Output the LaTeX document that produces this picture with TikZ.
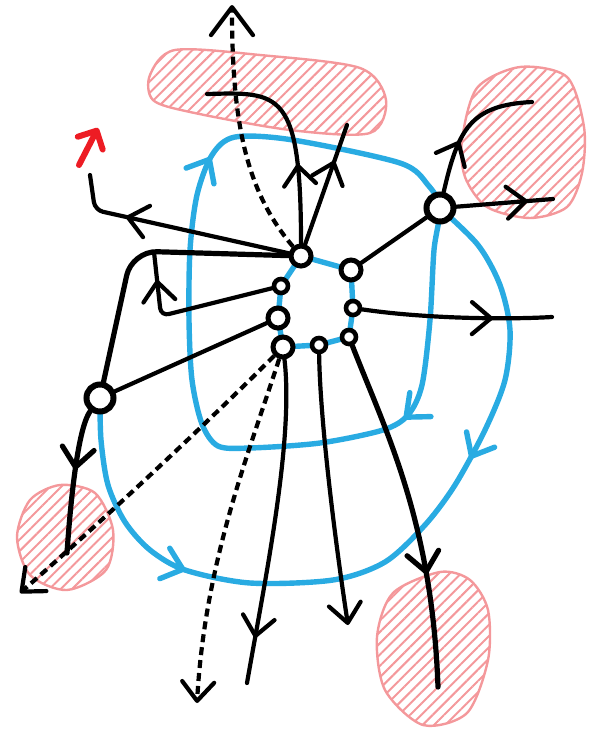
\documentclass[tikz,border=0pt]{standalone}
\usepackage{tikz}
\usetikzlibrary{arrows.meta,decorations.markings,patterns.meta,backgrounds}
\definecolor{flowblue}{HTML}{29ABE2}
\definecolor{blobpink}{HTML}{F4989B}
\definecolor{markred}{HTML}{ED1C24}
\tikzset{
  barb/.tip={Straight Barb[length=19pt,width=32pt,round]},
  bigbarb/.tip={Straight Barb[length=28pt,width=42pt,round]},
  crit/.style={circle,draw,fill=white,line width=5pt,inner sep=0pt,minimum size=20pt},
  scrit/.style={crit,line width=4.6pt,minimum size=14pt},
  bcrit/.style={crit,line width=6pt,minimum size=27pt},
  orbit/.style={flowblue,line width=5.4pt,line cap=round},
  traj/.style={black,line width=4.2pt,line cap=round,line join=round},
  htraj/.style={traj,line width=5.2pt},
  dtraj/.style={traj,line cap=butt,dash pattern=on 8pt off 5pt},
  blob/.style={draw=blobpink,line width=2.4pt,pattern={Lines[angle=45,distance=8pt,line width=2pt]},pattern color=blobpink},
  flowmark/.style={postaction={decorate,decoration={markings,mark=at position #1 with {\arrow{barb}}}}},
  flowback/.style={postaction={decorate,decoration={markings,mark=at position #1 with {\arrowreversed{barb}}}}},
}
\begin{document}
\begin{tikzpicture}[x=1pt,y=-1pt]
\useasboundingbox (0,0) rectangle (605,729);
% fixed points
\foreach \n/\x/\y in {A/301/256,B/351/270,E/278/318,G/283/347} \node[crit] (\n) at (\x,\y) {};
\foreach \n/\x/\y in {C/281/286,D/353/308,F/349/337,H/319/345} \node[scrit] (\n) at (\x,\y) {};
\foreach \n/\x/\y in {P/440/208,Q/100/398} \node[bcrit] (\n) at (\x,\y) {};
% loose ends
\coordinate (a1) at (207,94);
\coordinate (a2) at (347,125);
\coordinate (a3) at (232,5);
\coordinate (a4) at (90,175);
\coordinate (c1) at (154,252);
\coordinate (q1) at (67,553);
\coordinate (g1) at (20,593);
\coordinate (g2) at (197,703);
\coordinate (g3) at (247,683);
\coordinate (h1) at (348,625);
\coordinate (f1) at (438,687);
\coordinate (d1) at (552,317);
\coordinate (p1) at (532,102);
\coordinate (p2) at (553,199);
\coordinate (r1) at (79,165);
\coordinate (r2) at (98,128);
\begin{scope}[on background layer]
% sinks
\draw[blob] plot[smooth cycle] coordinates {(150,75) (175,50) (260,55) (360,68) (386,100) (370,133) (290,130) (190,112) (153,100)};
\draw[blob] plot[smooth cycle] coordinates {(462,140) (477,88) (520,67) (567,77) (584,127) (582,173) (567,207) (530,218) (487,207) (465,177)};
\draw[blob] plot[smooth cycle] coordinates {(17,537) (30,500) (60,485) (95,493) (113,530) (106,570) (67,590) (30,575)};
\draw[blob] plot[smooth cycle] coordinates {(440,572) (470,580) (488,610) (488,660) (467,713) (423,725) (385,690) (377,637) (393,593)};
% orbits
\draw[orbit,flowmark=.18,flowmark=.685] plot[smooth cycle] coordinates {(P.center) (434,250) (430,320) (422,385) (408,415) (383,430) (320,443) (250,448) (218,446) (202,424) (192,380) (189,320) (190,250) (197,195) (212,155) (235,137) (293,140) (400,163) (428,185)};
\draw[orbit,flowmark=.25,flowback=.66] plot[smooth] coordinates {(Q.center) (101,440) (108,485) (125,522) (150,550) (185,570) (250,583) (333,580) (385,562) (425,525) (455,485) (485,430) (505,380) (510,330) (500,285) (478,245) (P.center)};
\draw[orbit] (A.center) -- (B.center) -- (D.center) -- (F.center) -- (H.center) -- (G.center) -- (E.center) -- (C.center) -- cycle;
% trajectories
\draw[traj,flowmark=.37] (A) .. controls (301,90) and (280,92) .. (a1);
\draw[traj,flowmark=.7] (A) -- (a2);
\draw[dtraj,-{bigbarb}] (A) .. controls (245,190) and (232,120) .. (a3);
\draw[traj,rounded corners=8pt,flowmark=.72] (A) -- (95,210) -- (a4);
\draw[htraj,rounded corners=25pt] (A) -- (132,251) -- (Q);
\draw[traj,rounded corners=8pt,flowmark=.84] (C) -- (161,316) -- (c1);
\draw[traj] (E) -- (Q);
\draw[htraj,flowmark=.42] (Q) .. controls (80,425) and (72,480) .. (q1);
\draw[dtraj,-{barb}] (G) .. controls (215,415) and (120,505) .. (g1);
\draw[dtraj,-{barb}] (G) .. controls (250,450) and (205,560) .. (g2);
\draw[traj,flowmark=.86] (G) .. controls (294,440) and (265,580) .. (g3);
\draw[traj,-{barb}] (H) .. controls (320,420) and (335,540) .. (h1);
\draw[htraj,flowmark=.68] (F) .. controls (385,430) and (432,520) .. (f1);
\draw[traj,flowmark=.69] (D) .. controls (420,318) and (500,320) .. (d1);
\draw[traj] (B) -- (P);
\draw[traj,flowmark=.38] (P) .. controls (458,130) and (470,105) .. (p1);
\draw[traj,flowmark=.74] (P) -- (p2);
\draw[markred,line width=6pt,line cap=round,-{Straight Barb[length=14pt,width=28pt,round]}] (r1) -- (r2);
\end{scope}
\end{tikzpicture}
\end{document}
